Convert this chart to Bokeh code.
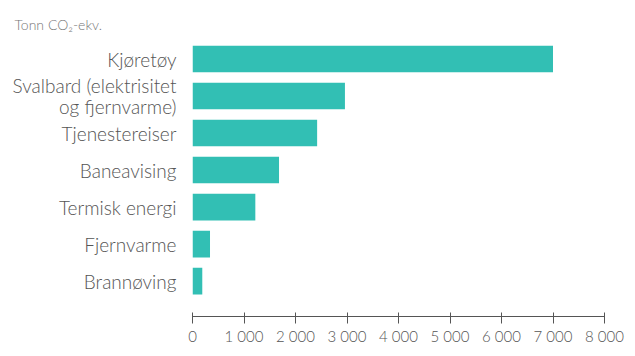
from bokeh.plotting import figure
from bokeh.models import FixedTicker, Range1d, Title
from bokeh.embed import file_html
from bokeh.resources import INLINE

categories = ["Kjøretøy", "Svalbard (elektrisitet\nog fjernvarme)", "Tjenestereiser",
              "Baneavising", "Termisk energi", "Fjernvarme", "Brannøving"]
values = [7000, 2960, 2420, 1680, 1220, 340, 190]
x_ticks = [0, 1000, 2000, 3000, 4000, 5000, 6000, 7000, 8000]
x_tick_labels = ["0", "1\u00a0000", "2\u00a0000", "3\u00a0000", "4\u00a0000",
                 "5\u00a0000", "6\u00a0000", "7\u00a0000", "8\u00a0000"]
unit_label = "Tonn CO₂-ekv."

n = len(categories)
ypos = [n - 1 - i for i in range(n)]

FONT = "'Lato Light', Lato, sans-serif"
TXT = "#555555"

p = figure(width=635, height=356, output_backend="svg", toolbar_location=None,
           x_range=Range1d(0, 8000), y_range=Range1d(-0.957, n - 0.5),
           min_border_left=192, min_border_right=31, min_border_top=40,
           min_border_bottom=40)
p.hbar(y=ypos, right=values, left=0, height=0.72, color="#32BFB4", line_color=None)

p.grid.visible = False
p.outline_line_color = None
p.background_fill_color = "white"
p.border_fill_color = "white"

xa = p.xaxis[0]
xa.ticker = FixedTicker(ticks=x_ticks)
xa.major_label_overrides = {t: l for t, l in zip(x_ticks, x_tick_labels)}
xa.axis_line_color = "#555555"
xa.major_tick_line_color = "#555555"
xa.major_tick_in = 4
xa.major_tick_out = 7
xa.minor_tick_line_color = None
xa.major_label_text_font = FONT
xa.major_label_text_font_size = "15px"
xa.major_label_text_color = TXT
xa.major_label_standoff = 3

ya = p.yaxis[0]
ya.ticker = FixedTicker(ticks=ypos)
ya.major_label_overrides = {y: c for y, c in zip(ypos, categories)}
ya.axis_line_color = None
ya.major_tick_line_color = None
ya.minor_tick_line_color = None
ya.major_label_text_font = FONT
ya.major_label_text_font_size = "19px"
ya.major_label_text_line_height = 0.95
ya.major_label_text_color = TXT
ya.major_label_standoff = 10

p.add_layout(Title(text=unit_label, align="left", offset=-178, standoff=15,
                   text_font=FONT, text_font_size="14px", text_color="#777777",
                   text_font_style="normal"), "above")

open("out.html", "w").write(file_html(p, INLINE))
